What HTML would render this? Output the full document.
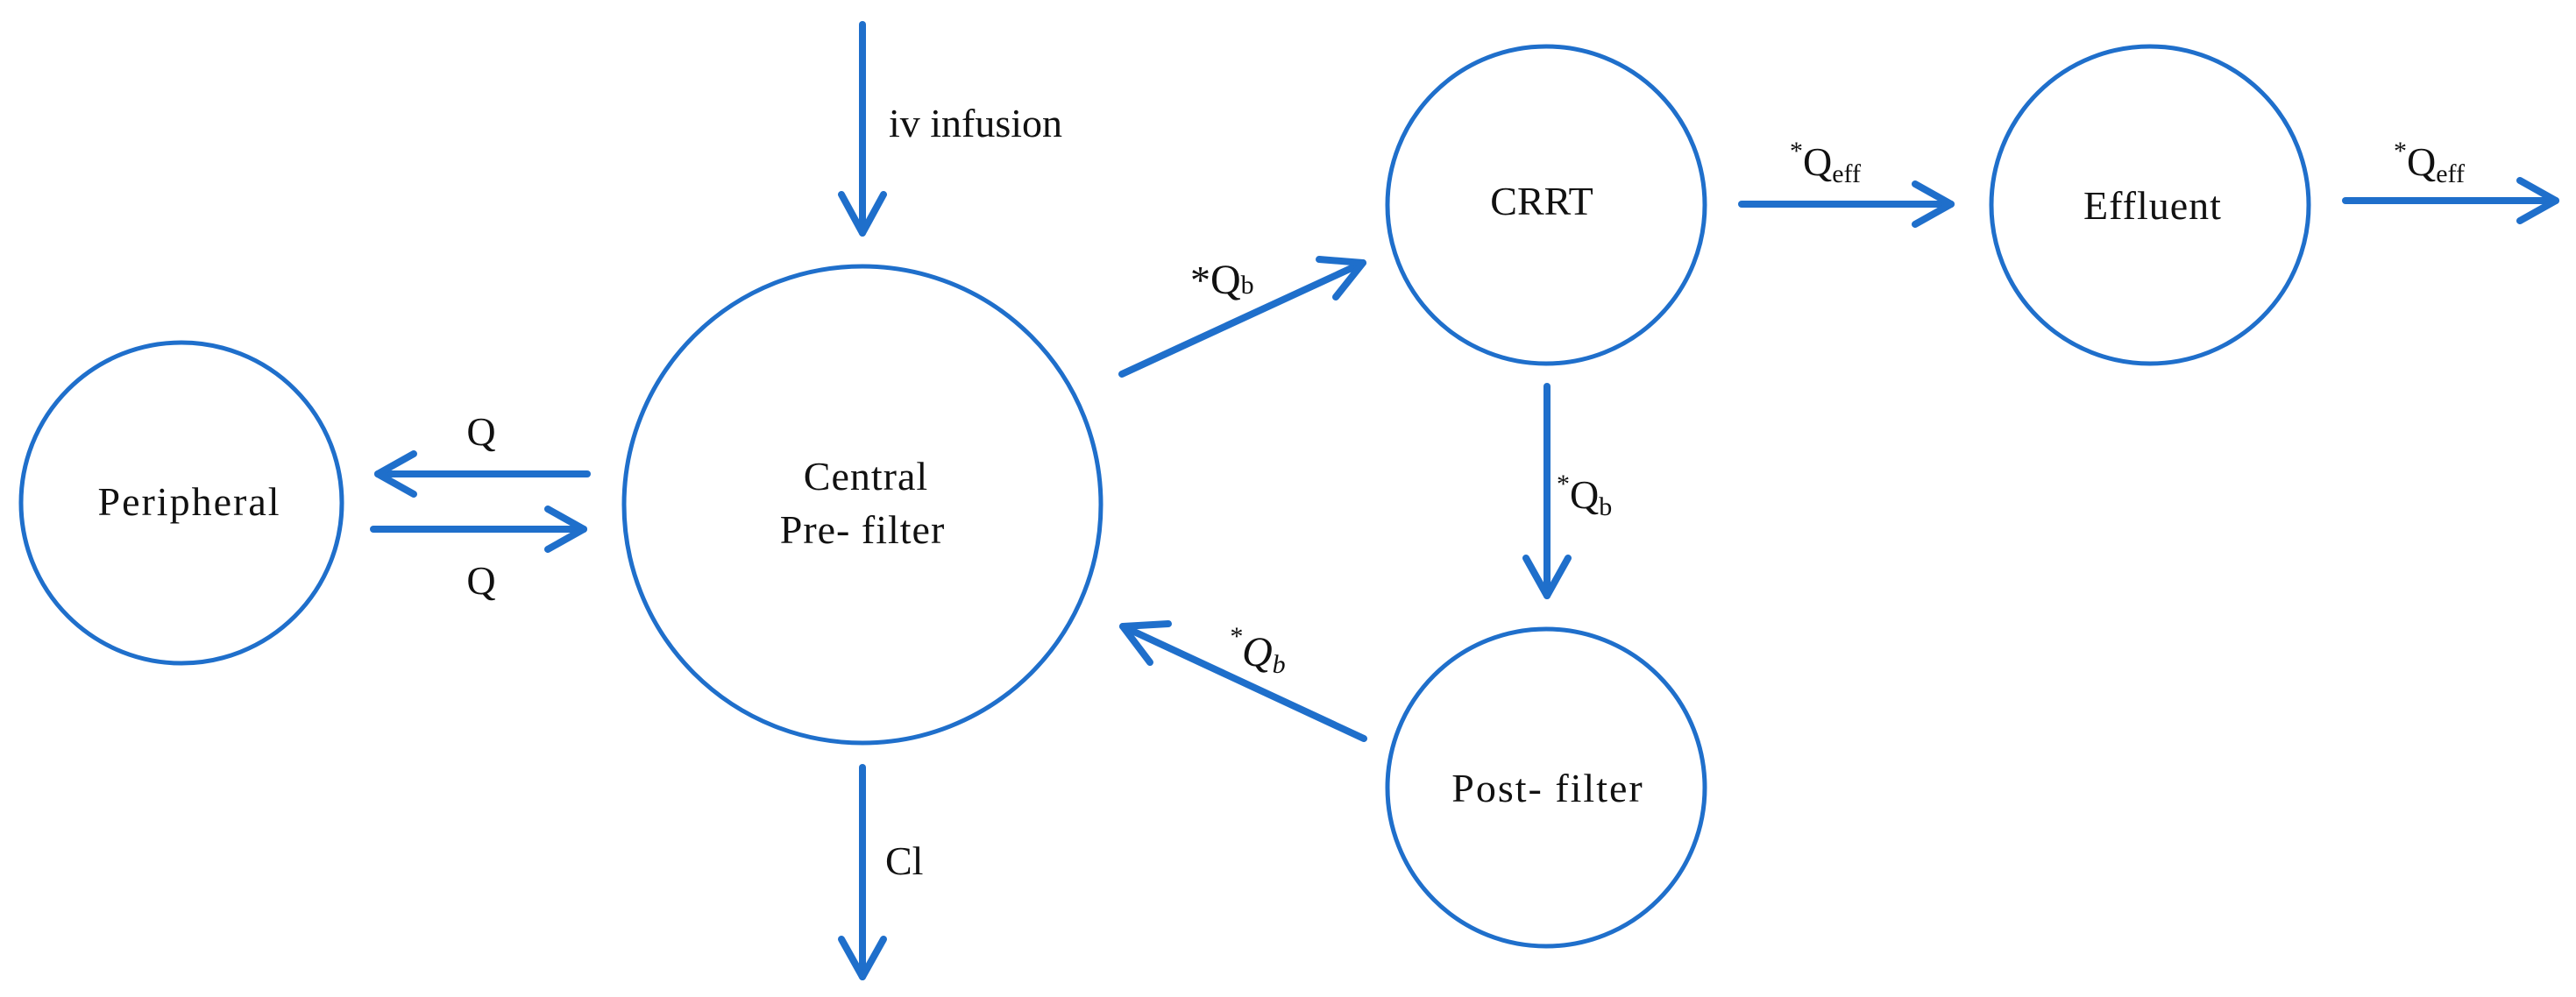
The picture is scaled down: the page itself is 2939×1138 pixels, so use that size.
<!DOCTYPE html>
<html><head><meta charset="utf-8"><style>
html,body{margin:0;padding:0;background:#fff;}
svg{display:block;}
text{font-family:"Liberation Serif",serif;fill:#111;}
</style></head><body>
<svg width="2939" height="1138" viewBox="0 0 2939 1138" xmlns="http://www.w3.org/2000/svg">
<g fill="none" stroke="#1f6fcb" stroke-width="5">
<circle cx="207" cy="574" r="183"/>
<circle cx="984" cy="576" r="272"/>
<circle cx="1764" cy="234" r="181"/>
<circle cx="2453" cy="234" r="181"/>
<circle cx="1764" cy="899" r="181"/>
</g>
<g fill="none" stroke="#1f6fcb" stroke-width="8" stroke-linecap="round" stroke-linejoin="round">
<!-- iv infusion -->
<line x1="984" y1="28" x2="984" y2="266"/>
<polyline points="960,222 984,266 1008,222"/>
<!-- Q left -->
<line x1="670" y1="541" x2="431" y2="541"/>
<polyline points="472,518 431,541 472,564"/>
<!-- Q right -->
<line x1="426" y1="604" x2="666" y2="604"/>
<polyline points="625,581 666,604 625,627"/>
<!-- Cl -->
<line x1="984" y1="876" x2="984" y2="1115"/>
<polyline points="960,1072 984,1115 1008,1072"/>
<!-- to CRRT -->
<line x1="1280" y1="427" x2="1555" y2="300"/>
<polyline points="1505,296 1555,300 1524,339"/>
<!-- return -->
<line x1="1556" y1="843" x2="1281" y2="715"/>
<polyline points="1333,712 1281,715 1312,756"/>
<!-- CRRT to post -->
<line x1="1765" y1="441" x2="1765" y2="680"/>
<polyline points="1741,637 1765,680 1789,637"/>
<!-- CRRT to effluent -->
<line x1="1987" y1="233" x2="2226" y2="233"/>
<polyline points="2185,210 2226,233 2185,256"/>
<!-- effluent out -->
<line x1="2676" y1="229" x2="2916" y2="229"/>
<polyline points="2875,206 2916,229 2875,252"/>
</g>
<g font-size="46">
<text x="1014" y="156">iv infusion</text>
<text x="216" y="588" text-anchor="middle" letter-spacing="2">Peripheral</text>
<text x="988" y="559" text-anchor="middle" letter-spacing="1">Central</text>
<text x="984" y="620" text-anchor="middle" letter-spacing="1">Pre- filter</text>
<text x="549" y="508" text-anchor="middle">Q</text>
<text x="549" y="678" text-anchor="middle">Q</text>
<text x="1010" y="998">Cl</text>
<text x="1759" y="245" text-anchor="middle">CRRT</text>
<text x="2456" y="250" text-anchor="middle" letter-spacing="1">Effluent</text>
<text x="1766" y="915" text-anchor="middle" letter-spacing="2">Post- filter</text>
<text x="1358" y="335">*<tspan font-size="48">Q</tspan><tspan font-size="30">b</tspan></text>
<text x="1402" y="760" font-style="italic"><tspan font-size="30" dy="-24">*</tspan><tspan font-size="48" dy="24">Q</tspan><tspan font-size="30" dy="8">b</tspan></text>
<text x="1776" y="580"><tspan font-size="30" dy="-18">*</tspan><tspan dy="18">Q</tspan><tspan font-size="30" dy="8">b</tspan></text>
<text x="2042" y="200"><tspan font-size="30" dy="-18">*</tspan><tspan dy="18">Q</tspan><tspan font-size="30" dy="8">eff</tspan></text>
<text x="2731" y="200"><tspan font-size="30" dy="-18">*</tspan><tspan dy="18">Q</tspan><tspan font-size="30" dy="8">eff</tspan></text>
</g>
</svg>
</body></html>
